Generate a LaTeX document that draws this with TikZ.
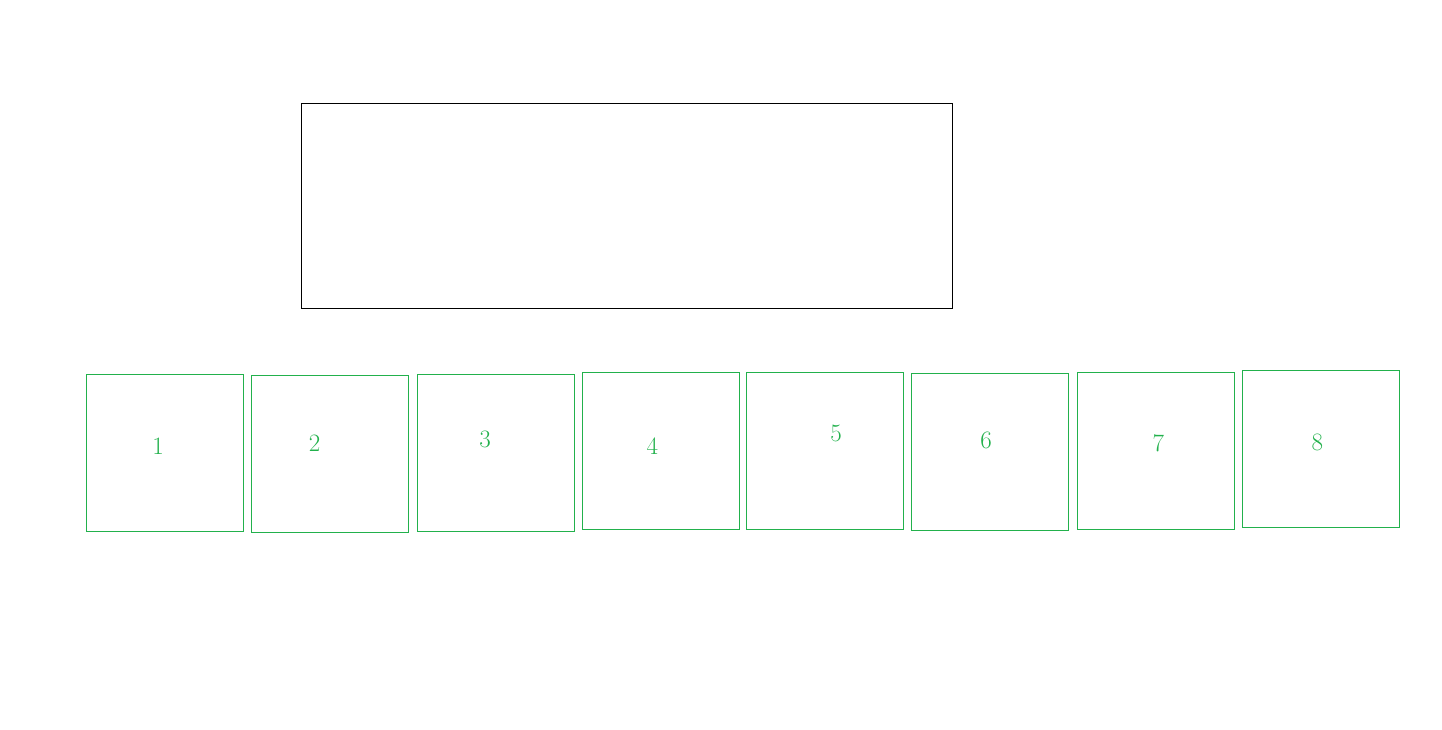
\documentclass[tikz,border=0pt]{standalone}
\usepackage{xcolor}
\definecolor{paintgreen}{HTML}{22B14C}
\tikzset{frame box/.style={draw=black, line width=1pt, minimum width=651pt, minimum height=204pt, inner sep=0}}
\tikzset{cell box/.style={draw=paintgreen, line width=1pt, minimum size=157pt, inner sep=0}}
\tikzset{digit/.style={text=paintgreen, inner sep=0, font=\fontsize{25}{30}\selectfont}}

\begin{document}
\begin{tikzpicture}[x=1pt, y=-1pt]
  \useasboundingbox (0,0) rectangle (1442,730);

  \node[frame box] at (626.5, 206) (top) {};

  \node[cell box] at (164.5, 452.5) (C1) {};
  \node[cell box] at (329.5, 453.5) (C2) {};
  \node[cell box] at (495.5, 452.5) (C3) {};
  \node[cell box] at (660.5, 450.5) (C4) {};
  \node[cell box] at (824.5, 450.5) (C5) {};
  \node[cell box] at (989.5, 451.5) (C6) {};
  \node[cell box] at (1155.5, 450.5) (C7) {};
  \node[cell box] at (1320.5, 448.5) (C8) {};

  \node[digit] at (158, 446) (n1) {1};
  \node[digit] at (314.7, 443.3) (n2) {2};
  \node[digit] at (485, 439.3) (n3) {3};
  \node[digit] at (652.3, 446) (n4) {4};
  \node[digit] at (836, 433.3) (n5) {5};
  \node[digit] at (986, 440) (n6) {6};
  \node[digit] at (1158.3, 443) (n7) {7};
  \node[digit] at (1317.3, 442.7) (n8) {8};
\end{tikzpicture}
\end{document}
